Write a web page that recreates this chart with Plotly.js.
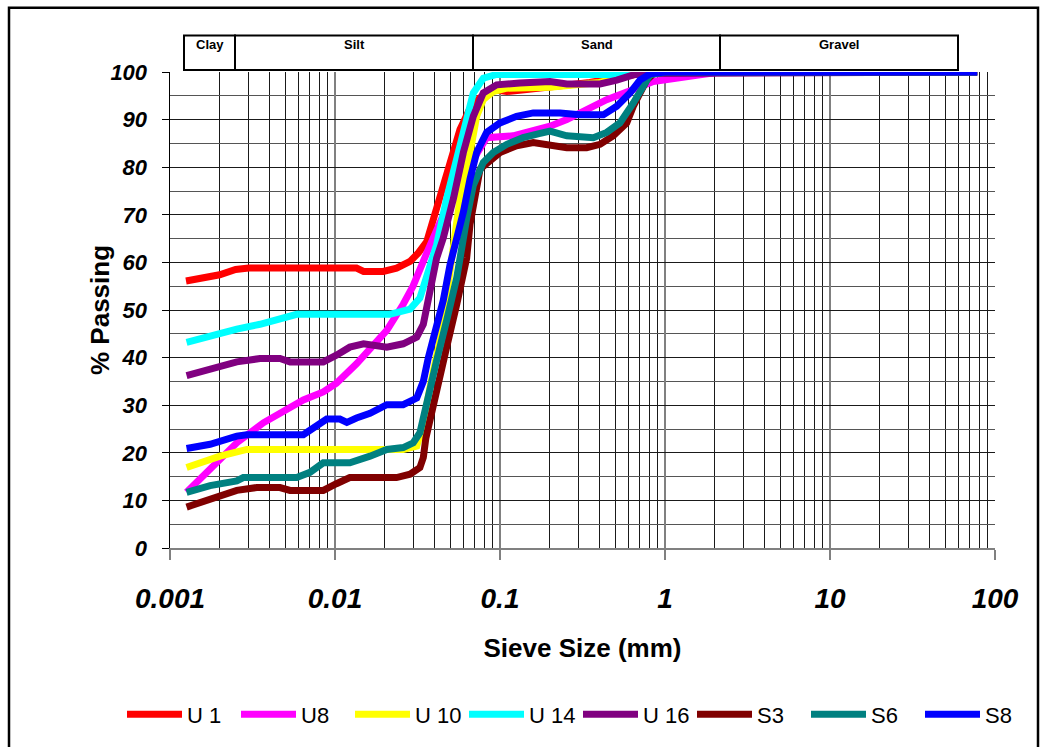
<!DOCTYPE html>
<html>
<head>
<meta charset="utf-8">
<script src="https://cdn.plot.ly/plotly-3.0.1.min.js"></script>
<style>html,body{margin:0;padding:0;background:#fff;}#chart{width:1043px;height:747px;}</style>
</head>
<body>
<div id="chart"></div>
<script>
// ---- data (sieve size in mm, % passing) ----
const seriesNames = ["U 1", "U8", "U 10", "U 14", "U 16", "S3", "S6", "S8"];
const seriesColors = ["#FF0000", "#FF00FF", "#FFFF00", "#00FFFF", "#800080", "#800000", "#008080", "#0000FF"];

const u1Size = [0.00125,0.002,0.0025,0.003,0.0135,0.0149,0.0196,0.0236,0.0285,0.032,0.036,0.0395,0.0433,0.0475,0.0522,0.0572,0.065,0.075,0.09,0.11,0.145,0.175,0.22,0.35,0.55,0.8,78];
const u1Pass = [56.1,57.4,58.5,58.8,58.8,58.1,58.1,58.8,60.2,62,64.4,69.2,72.7,77.5,83.1,87.9,92,94.5,96.3,95.9,96.3,96.6,97.3,97.8,99,100,100];

const u8Size = [0.00126,0.00175,0.00254,0.00368,0.00464,0.00643,0.00849,0.0102,0.0135,0.0163,0.0206,0.0259,0.0297,0.036,0.0395,0.0522,0.0658,0.083,0.12,0.201,0.254,0.335,0.443,0.643,0.849,1.63,2.15,78];
const u8Pass = [11.7,16.6,22.1,26.3,28.3,31.1,32.8,34.6,38.7,41.9,45.7,51.2,55,62,65.1,74.8,80.5,86.2,86.6,88.6,90,92.1,94.2,96.3,98,99.4,100,100];

const u10Size = [0.00126,0.00201,0.00292,0.0179,0.0259,0.0313,0.0344,0.0377,0.0413,0.0453,0.0484,0.0522,0.0572,0.0658,0.0722,0.0792,0.091,0.11,0.2,0.4,0.75,78];
const u10Pass = [16.9,19.3,20.7,20.7,20.7,21.4,26.3,33.9,40.8,47,55,64,73.4,83.1,90.7,94.2,95.9,96.6,96.8,97.8,100,100];

const u14Size = [0.00126,0.00175,0.00254,0.00351,0.00464,0.00586,0.0215,0.0285,0.0327,0.036,0.0413,0.0475,0.0547,0.0628,0.0689,0.0792,0.0955,0.5,0.7,78];
const u14Pass = [43.2,44.6,46,47,48.1,49.1,49.1,50.2,52.5,57,63.7,73.4,81.7,90,95.6,98.7,99.5,99.5,100,100];

const u16Size = [0.00126,0.00175,0.00254,0.00351,0.00464,0.00534,0.00849,0.0102,0.0123,0.0149,0.0206,0.0259,0.0313,0.0343,0.0368,0.0413,0.0453,0.0522,0.06,0.0689,0.0792,0.0955,0.132,0.159,0.201,0.254,0.404,0.51,0.643,0.774,78];
const u16Pass = [36.2,37.7,39.1,39.8,39.8,39.1,39.1,40.5,42.2,42.9,42.2,42.9,44.3,47,52.6,60.9,65.1,73.4,83.1,90.7,95.6,97.3,97.7,97.7,98,97.5,97.5,98.3,99.4,99.7,100];

const s3Size = [0.00126,0.00175,0.00254,0.00335,0.00464,0.00534,0.00849,0.0102,0.0123,0.0236,0.0285,0.0327,0.0343,0.0355,0.0395,0.0433,0.0475,0.0547,0.0628,0.0658,0.0757,0.1,0.126,0.159,0.201,0.254,0.335,0.404,0.486,0.586,0.643,0.705,0.774,0.849,1.0,78];
const s3Pass = [8.6,10.3,12.1,12.7,12.7,12.1,12.1,13.5,14.8,14.8,15.5,16.9,19,23,30.4,36,42.2,51.2,60.9,68,79.6,83.1,84.5,85.2,84.8,84.1,84.1,84.8,86.6,89.3,92.8,95.6,98.3,99.6,100,100];

const s6Size = [0.00126,0.00175,0.00254,0.00278,0.00586,0.00705,0.00849,0.0123,0.0163,0.0206,0.0259,0.0298,0.0327,0.036,0.0413,0.0475,0.0547,0.0628,0.0689,0.0792,0.091,0.11,0.138,0.175,0.201,0.254,0.368,0.443,0.533,0.643,0.739,0.811,1.0,78];
const s6Pass = [11.7,13.1,14.1,14.8,14.8,15.9,17.9,17.9,19.3,20.7,21.1,22.1,24.2,31,39.4,47.8,56.8,69.2,76.2,81,83.1,84.8,86.2,87.1,87.6,86.6,86.2,87.3,89.3,93.5,97.3,99.4,100,100];

const s8Size = [0.00126,0.00175,0.00254,0.00292,0.00643,0.00775,0.00891,0.0107,0.0118,0.0135,0.0163,0.0206,0.0259,0.0313,0.0343,0.0368,0.0413,0.0453,0.0498,0.0547,0.06,0.0658,0.0722,0.083,0.1,0.126,0.159,0.231,0.305,0.423,0.51,0.614,0.705,0.811,1.0,78];
const s8Pass = [20.9,21.8,23.5,23.8,23.8,25.9,27.1,27.1,26.4,27.3,28.3,30.1,30.1,31.5,35,40,46,52,59.5,64.5,70.6,77.5,83.1,87.3,89.3,90.7,91.4,91.4,91,91,92.8,95.6,98.3,99.6,100,100];

const xTickVals = [0.001, 0.01, 0.1, 1, 10, 100];
const xTickText = ["0.001", "0.01", "0.1", "1", "10", "100"];
const yTickVals = [0, 10, 20, 30, 40, 50, 60, 70, 80, 90, 100];

const bandNames = ["Clay", "Silt", "Sand", "Gravel"];

// ---- build ----
const sizes = [u1Size, u8Size, u10Size, u14Size, u16Size, s3Size, s6Size, s8Size];
const passes = [u1Pass, u8Pass, u10Pass, u14Pass, u16Pass, s3Pass, s6Pass, s8Pass];

const traces = seriesNames.map((n, i) => ({
  type: "scatter", mode: "lines", name: n,
  x: sizes[i], y: passes[i],
  line: {color: seriesColors[i], width: 7, shape: "linear"},
  cliponaxis: true
}));

const FONT = "Liberation Sans, Arial, Helvetica, sans-serif";
const plotL = 170, plotR = 995, plotT = 72, plotB = 553;
const W = 1043, H = 747;
const px2x = p => (p - plotL) / (plotR - plotL);
const px2y = p => (plotB - p) / (plotB - plotT);

// band boxes (pixel edges)
const bandEdges = [184, 235, 473, 720, 958];
const bandTop = 35, bandBot = 70;
const shapes = [];
const annotations = [];
for (let i = 0; i < bandNames.length; i++) {
  shapes.push({type: "rect", xref: "paper", yref: "paper",
    x0: px2x(bandEdges[i]), x1: px2x(bandEdges[i + 1]),
    y0: px2y(bandBot), y1: px2y(bandTop),
    line: {color: "#000", width: 2}, fillcolor: "rgba(0,0,0,0)"});
  annotations.push({xref: "paper", yref: "paper",
    x: px2x((bandEdges[i] + bandEdges[i + 1]) / 2), y: px2y(35),
    xanchor: "center", yanchor: "top", showarrow: false,
    text: "<b>" + bandNames[i] + "</b>",
    font: {family: FONT, size: 13, color: "#000"}});
}
// y-axis title
annotations.push({xref: "paper", yref: "paper", x: px2x(100), y: 0.5,
  xanchor: "center", yanchor: "middle", showarrow: false, textangle: -90,
  text: "<b>% Passing</b>", font: {family: FONT, size: 26, color: "#000"}});

// outer frame
shapes.push({type: "rect", xref: "paper", yref: "paper",
  x0: px2x(9), x1: px2x(1038), y0: px2y(780), y1: px2y(7),
  line: {color: "#000", width: 2.5}, fillcolor: "rgba(0,0,0,0)", layer: "below"});

const layout = {
  width: W, height: H,
  margin: {l: plotL, r: W - plotR, t: plotT, b: H - plotB, pad: 0},
  paper_bgcolor: "#fff", plot_bgcolor: "#fff",
  showlegend: true,
  font: {family: FONT, color: "#000"},
  xaxis: {
    type: "log", range: [-3, 2],
    tickvals: xTickVals, ticktext: xTickText,
    tickfont: {family: FONT, size: 28, weight: "bold", style: "italic", color: "#000"},
    ticks: "outside", ticklen: 10, tickcolor: "#808080", tickwidth: 1.5,
    ticklabelstandoff: 14,
    showgrid: true, gridcolor: "#808080", gridwidth: 2,
    minor: {dtick: "D1", showgrid: true, gridcolor: "#1a1a1a", gridwidth: 1, ticks: ""},
    showline: true, linecolor: "#808080", linewidth: 2,
    zeroline: false,
    title: {text: "<b>Sieve Size (mm)</b>", font: {family: FONT, size: 26, color: "#000"}, standoff: 26}
  },
  yaxis: {
    range: [0, 100],
    tickvals: yTickVals,
    tickfont: {family: FONT, size: 22, weight: "bold", style: "italic", color: "#000"},
    ticks: "outside", ticklen: 7, tickcolor: "#000", tickwidth: 1,
    ticklabelstandoff: 10,
    showgrid: true, gridcolor: "#1a1a1a", gridwidth: 1,
    minor: {dtick: 5, showgrid: true, gridcolor: "#555", gridwidth: 1, ticks: ""},
    showline: true, linecolor: "#000", linewidth: 1.5,
    zeroline: false
  },
  legend: {
    orientation: "h", x: px2x(122), xanchor: "left", y: px2y(700), yanchor: "top",
    font: {family: FONT, size: 22, color: "#000"},
    itemwidth: 55, entrywidth: 44, entrywidthmode: "pixels",
    bgcolor: "rgba(0,0,0,0)", traceorder: "normal", tracegroupgap: 0
  },
  shapes: shapes,
  annotations: annotations
};

Plotly.newPlot("chart", traces, layout, {displayModeBar: false, staticPlot: true});
</script>
</body>
</html>
